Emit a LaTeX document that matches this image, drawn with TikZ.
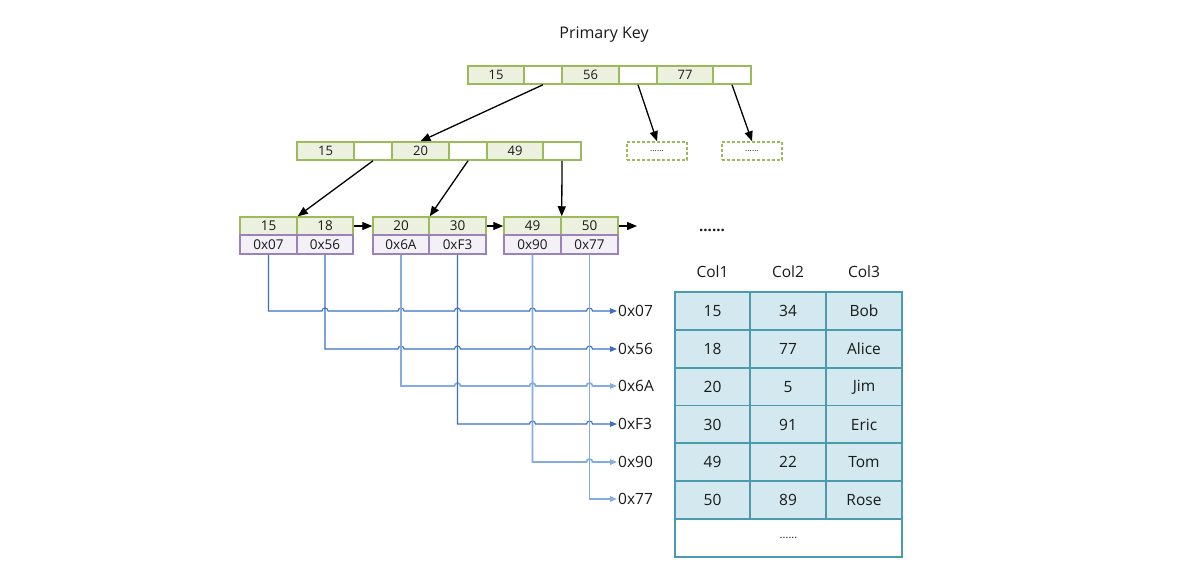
\documentclass[tikz,border=0pt]{standalone}
\usepackage{fontspec}
\setmainfont{Open Sans}
\usetikzlibrary{arrows.meta,calc}
\definecolor{gfill}{HTML}{EBF1DE}
\definecolor{gline}{HTML}{9BBB59}
\definecolor{pfill}{HTML}{F3F0F7}
\definecolor{pline}{HTML}{9A83BD}
\definecolor{tfill}{HTML}{D3E9EF}
\definecolor{tline}{HTML}{4A9BAE}
\definecolor{bdark}{HTML}{3A6FC6}
\definecolor{blight}{HTML}{82ACE2}
\definecolor{txt}{HTML}{1A1A1A}
\begin{document}
\begin{tikzpicture}[x=1pt,y=-1pt,
  cell/.style={draw=gline, line width=1.5pt, inner sep=0pt, minimum height=18pt, text=txt, font=\fontsize{13}{15}\selectfont},
  keycell/.style={cell, fill=gfill},
  ptrcell/.style={cell, fill=white},
  dashbox/.style={draw=gline, line width=1.5pt, dashed, dash pattern=on 3pt off 2pt, inner sep=0pt, minimum width=60pt, minimum height=18pt, text=txt, font=\fontsize{8.5}{9}\selectfont},
  leafkey/.style={cell, fill=gfill, font=\fontsize{13.5}{15}\selectfont},
  leafptr/.style={draw=pline, line width=1.5pt, fill=pfill, inner sep=0pt, minimum height=19pt, text=txt, font=\fontsize{13.5}{15}\selectfont},
  tcell/.style={draw=tline, line width=1.8pt, fill=tfill, inner sep=0pt, minimum height=38pt, text=txt, font=\fontsize{15.5}{18}\selectfont},
  lbl/.style={inner sep=1pt, text=txt, font=\fontsize{15.5}{18}\selectfont},
  tree/.style={line width=1.3pt, -{Triangle[length=10pt,width=8pt]}},
  bl/.style={line width=1.1pt, bdark, -{Triangle[length=7pt,width=5.5pt]}},
  bll/.style={line width=1.7pt, blight, -{Triangle[length=7pt,width=5.5pt]}},
]
\useasboundingbox (0,0) rectangle (1190,573);
\fill[white] (0,0) rectangle (1190,573);

\node[lbl, font=\fontsize{16}{19}\selectfont] (title) at (604,35) {Primary Key};

% top row
\node[keycell, minimum width=56pt] (t1) at (496,75) {15};
\node[ptrcell, minimum width=38pt] (t2) at (543,75) {};
\node[keycell, minimum width=57pt] (t3) at (590.5,75) {56};
\node[ptrcell, minimum width=38pt] (t4) at (638,75) {};
\node[keycell, minimum width=56pt] (t5) at (685,75) {77};
\node[ptrcell, minimum width=38pt] (t6) at (732,75) {};

% second row
\node[keycell, minimum width=57pt] (s1) at (325.5,151) {15};
\node[ptrcell, minimum width=38pt] (s2) at (373,151) {};
\node[keycell, minimum width=57pt] (s3) at (420.5,151) {20};
\node[ptrcell, minimum width=38pt] (s4) at (468,151) {};
\node[keycell, minimum width=56pt] (s5) at (515,151) {49};
\node[ptrcell, minimum width=38pt] (s6) at (562,151) {};

\node[dashbox] (d1) at (657,151) {......};
\node[dashbox] (d2) at (752,151) {......};

% leaves
\node[leafkey, minimum width=57pt] (l1) at (268.5,226) {15};
\node[leafkey, minimum width=56pt] (l2) at (325,226) {18};
\node[leafkey, minimum width=56pt] (l3) at (401,226) {20};
\node[leafkey, minimum width=57pt] (l4) at (457.5,226) {30};
\node[leafkey, minimum width=57pt] (l5) at (532.5,226) {49};
\node[leafkey, minimum width=57pt] (l6) at (589.5,226) {50};
\node[leafptr, minimum width=57pt] (lp1) at (268.5,244.5) {0x07};
\node[leafptr, minimum width=56pt] (lp2) at (325,244.5) {0x56};
\node[leafptr, minimum width=56pt] (lp3) at (401,244.5) {0x6A};
\node[leafptr, minimum width=57pt] (lp4) at (457.5,244.5) {0xF3};
\node[leafptr, minimum width=57pt] (lp5) at (532.5,244.5) {0x90};
\node[leafptr, minimum width=57pt] (lp6) at (589.5,244.5) {0x77};
\coordinate (lend) at (637,226);

% tree arrows
\draw[tree] (t2.south) -- (s3.north);
\draw[tree] (t4.south) -- (d1.north);
\draw[tree] (t6.south) -- (d2.north);
\draw[tree] (s2.south) -- (l1.north east);
\draw[tree] (s4.south) -- (l3.north east);
\draw[tree] (s6.south) -- (l5.north east);
\draw[tree] (l2.east) -- (l3.west);
\draw[tree] (l4.east) -- (l5.west);
\draw[tree] (l6.east) -- (lend);

% address labels
\node[lbl, anchor=west] (a1) at (617,311) {0x07};
\node[lbl, anchor=west] (a2) at (617,349) {0x56};
\node[lbl, anchor=west] (a3) at (617,386) {0x6A};
\node[lbl, anchor=west] (a4) at (617,424) {0xF3};
\node[lbl, anchor=west] (a5) at (617,462) {0x90};
\node[lbl, anchor=west] (a6) at (617,499) {0x77};

\foreach \i in {1,...,6}{\foreach \j in {1,...,6}{
  \coordinate (h\i\j) at (lp\j.south |- a\i.west);}}

\draw[bl] (lp1.south) -- (h11)
  -- ([xshift=-3pt]h12) arc[start angle=180,end angle=0,radius=3pt]
  -- ([xshift=-3pt]h13) arc[start angle=180,end angle=0,radius=3pt]
  -- ([xshift=-3pt]h14) arc[start angle=180,end angle=0,radius=3pt]
  -- ([xshift=-3pt]h15) arc[start angle=180,end angle=0,radius=3pt]
  -- ([xshift=-3pt]h16) arc[start angle=180,end angle=0,radius=3pt]
  -- (a1.west);
\draw[bl] (lp2.south) -- (h22)
  -- ([xshift=-3pt]h23) arc[start angle=180,end angle=0,radius=3pt]
  -- ([xshift=-3pt]h24) arc[start angle=180,end angle=0,radius=3pt]
  -- ([xshift=-3pt]h25) arc[start angle=180,end angle=0,radius=3pt]
  -- ([xshift=-3pt]h26) arc[start angle=180,end angle=0,radius=3pt]
  -- (a2.west);
\draw[bll] (lp3.south) -- (h33)
  -- ([xshift=-3pt]h34) arc[start angle=180,end angle=0,radius=3pt]
  -- ([xshift=-3pt]h35) arc[start angle=180,end angle=0,radius=3pt]
  -- ([xshift=-3pt]h36) arc[start angle=180,end angle=0,radius=3pt]
  -- (a3.west);
\draw[bl] (lp4.south) -- (h44)
  -- ([xshift=-3pt]h45) arc[start angle=180,end angle=0,radius=3pt]
  -- ([xshift=-3pt]h46) arc[start angle=180,end angle=0,radius=3pt]
  -- (a4.west);
\draw[bll] (lp5.south) -- (h55)
  -- ([xshift=-3pt]h56) arc[start angle=180,end angle=0,radius=3pt]
  -- (a5.west);
\draw[bll] (lp6.south) -- (h66) -- (a6.west);

% table
\node[lbl, font=\fontsize{15}{18}\selectfont\bfseries] (dots) at (712,230) {......};
\node[lbl] (h1) at (712.5,272) {Col1};
\node[lbl] (h2) at (788,272) {Col2};
\node[lbl] (h3) at (864,272) {Col3};
\foreach \r/\y/\a/\b/\c in {1/311/15/34/Bob, 2/349/18/77/Alice, 3/387/20/5/Jim, 4/424.5/30/91/Eric, 5/462/49/22/Tom, 6/500/50/89/Rose}{
  \node[tcell, minimum width=75pt] (c\r1) at (712.5,\y) {\a};
  \node[tcell, minimum width=76pt] (c\r2) at (788,\y) {\b};
  \node[tcell, minimum width=76pt] (c\r3) at (864,\y) {\c};
}
\node[tcell, fill=white, minimum width=227pt, font=\fontsize{11}{13}\selectfont] (cb) at (788.5,538) {\raisebox{-2pt}{......}};
\end{tikzpicture}
\end{document}
